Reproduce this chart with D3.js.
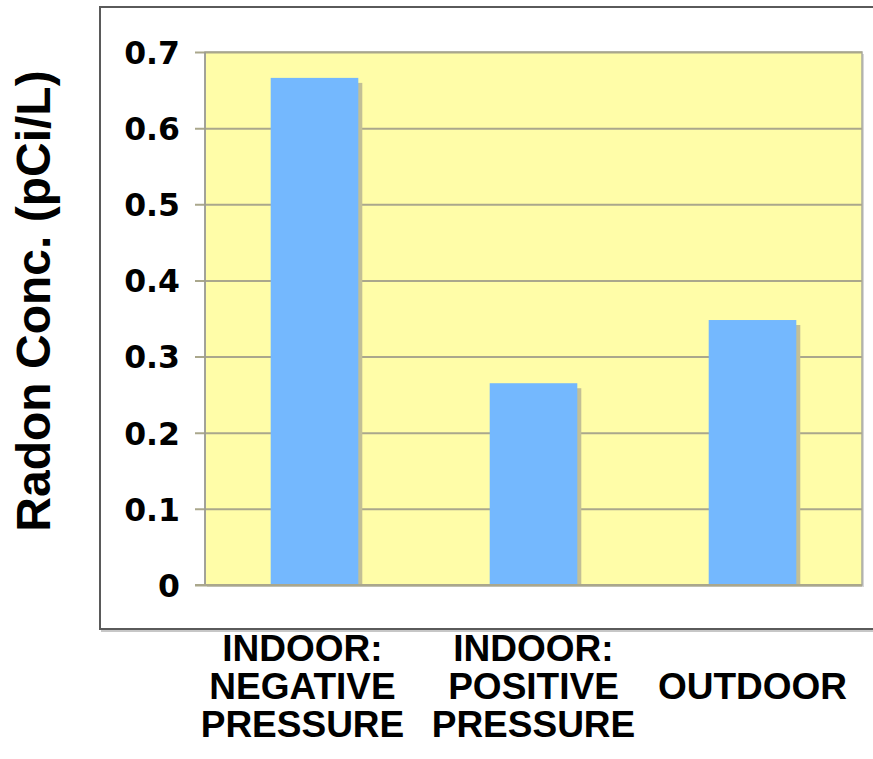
<!DOCTYPE html>
<html>
<head>
<meta charset="utf-8">
<script src="https://cdn.jsdelivr.net/npm/d3@7"></script>
<style>
  html, body { margin: 0; padding: 0; background: #ffffff; }
  svg { display: block; }
</style>
</head>
<body>
<svg id="chart" width="873" height="759"></svg>
<script>
// Radon concentration by sampling location
const categories = ["INDOOR: NEGATIVE PRESSURE", "INDOOR: POSITIVE PRESSURE", "OUTDOOR"];
const categoryLines = [["INDOOR:", "NEGATIVE", "PRESSURE"], ["INDOOR:", "POSITIVE", "PRESSURE"], ["OUTDOOR"]];
const radonValues = [0.666, 0.265, 0.348];
const yTicks = [0, 0.1, 0.2, 0.3, 0.4, 0.5, 0.6, 0.7];
const yTitle = "Radon Conc. (pCi/L)";

const svg = d3.select("#chart");
const plot = { left: 205, right: 862, top: 52, bottom: 585 };

const x = d3.scaleBand()
  .domain(categories)
  .range([plot.left, plot.right])
  .paddingInner(0.6)
  .paddingOuter(0.3);

const y = d3.scaleLinear()
  .domain([0, 0.7])
  .range([plot.bottom, plot.top]);

// Outer chart frame (right side runs past the page edge)
svg.append("rect")
  .attr("x", 100).attr("y", 7)
  .attr("width", 800).attr("height", 622)
  .attr("fill", "none")
  .attr("stroke", "#5a5a5a")
  .attr("stroke-width", 2);
svg.append("line")
  .attr("x1", 101).attr("x2", 873)
  .attr("y1", 631).attr("y2", 631)
  .attr("stroke", "#b5b5b5").attr("stroke-width", 1.5);

// Plot area drop shadow and fill
svg.append("rect")
  .attr("x", plot.left + 2).attr("y", plot.top + 2)
  .attr("width", plot.right - plot.left).attr("height", plot.bottom - plot.top)
  .attr("fill", "#d6d6d6");
svg.append("rect")
  .attr("x", plot.left).attr("y", plot.top)
  .attr("width", plot.right - plot.left).attr("height", plot.bottom - plot.top)
  .attr("fill", "#fffda8")
  .attr("stroke", "#a8a8a0")
  .attr("stroke-width", 1.5);

// Gridlines spanning the plot, with tick stubs on the left
const yAxis = d3.axisLeft(y)
  .tickValues(yTicks)
  .tickSize(plot.right - plot.left + 10)
  .tickFormat(d => d === 0 ? "0" : d3.format(".1f")(d));

const gy = svg.append("g")
  .attr("transform", `translate(${plot.right},0)`)
  .call(yAxis);
gy.select(".domain").remove();
gy.selectAll(".tick line")
  .attr("stroke", "#aaa78c")
  .attr("stroke-width", 2);
gy.selectAll(".tick text")
  .attr("x", -(plot.right - 180))
  .attr("dy", "0.36em")
  .attr("text-anchor", "end")
  .attr("fill", "#000")
  .style("font-family", "'DejaVu Sans', Verdana, sans-serif")
  .style("font-weight", "bold")
  .style("font-size", "31.5px");

// Left edge of the plot
svg.append("line")
  .attr("x1", plot.left).attr("x2", plot.left)
  .attr("y1", plot.top).attr("y2", plot.bottom)
  .attr("stroke", "#9a9a92").attr("stroke-width", 1.5);

// Bar shadows
svg.append("g").selectAll("rect")
  .data(radonValues)
  .join("rect")
  .attr("x", (d, i) => x(categories[i]) + 4)
  .attr("y", d => y(d) + 5)
  .attr("width", x.bandwidth())
  .attr("height", d => y(0) - y(d) - 5)
  .attr("fill", "#c2bf96");

// Bars
svg.append("g").selectAll("rect")
  .data(radonValues)
  .join("rect")
  .attr("x", (d, i) => x(categories[i]))
  .attr("y", d => y(d))
  .attr("width", x.bandwidth())
  .attr("height", d => y(0) - y(d))
  .attr("fill", "#74b8fe");

// Baseline redrawn over bar shadows
svg.append("line")
  .attr("x1", plot.left - 10).attr("x2", plot.right)
  .attr("y1", y(0)).attr("y2", y(0))
  .attr("stroke", "#aaa78c").attr("stroke-width", 2);

// Category labels, centred vertically on a common midline
const lineHeight = 38;
const labelMid = 686;
const labels = svg.append("g")
  .style("font-family", "'Liberation Sans', Arial, sans-serif")
  .style("font-weight", "bold")
  .style("font-size", "37px")
  .attr("fill", "#000");

categoryLines.forEach((lines, i) => {
  const cx = x(categories[i]) + x.bandwidth() / 2 - (i === 0 ? 12 : 0);
  const first = labelMid - (lines.length - 1) / 2 * lineHeight;
  labels.append("text")
    .attr("text-anchor", "middle")
    .selectAll("tspan")
    .data(lines)
    .join("tspan")
    .attr("x", cx)
    .attr("y", (d, j) => first + j * lineHeight)
    .attr("dy", "0.35em")
    .text(d => d);
});

// Y axis title
svg.append("text")
  .attr("transform", "translate(50,301) rotate(-90)")
  .attr("text-anchor", "middle")
  .style("font-family", "'Liberation Sans', Arial, sans-serif")
  .style("font-weight", "bold")
  .style("font-size", "48px")
  .attr("fill", "#000")
  .text(yTitle);
</script>
</body>
</html>
